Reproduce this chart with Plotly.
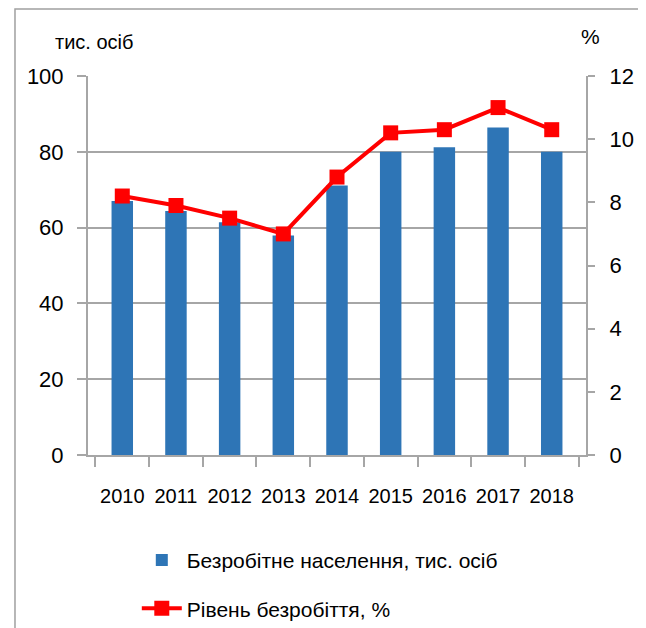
import plotly.graph_objects as go

years = ["2010", "2011", "2012", "2013", "2014", "2015", "2016", "2017", "2018"]
unemployed = [67.0, 64.4, 61.4, 57.9, 71.1, 80.0, 81.2, 86.4, 80.0]
rate = [8.2, 7.9, 7.5, 7.0, 8.8, 10.2, 10.3, 11.0, 10.3]

FONT = "Liberation Sans, Arial, sans-serif"
GRID = "#A6A6A6"

fig = go.Figure()
fig.add_trace(go.Bar(
    x=years, y=unemployed, name="Безробітне населення, тис. осіб",
    marker=dict(color="#2E75B6", line=dict(width=0)), width=0.4, yaxis="y",
    legendgroup="a",
))
fig.add_trace(go.Scatter(
    x=years, y=rate, name="Рівень безробіття, %", mode="lines+markers",
    line=dict(color="#FF0000", width=4),
    marker=dict(symbol="square", size=15, color="#FF0000"), yaxis="y2",
    legendgroup="b",
))

fig.update_layout(
    width=638, height=620,
    margin=dict(l=80, r=60, t=68, b=173, autoexpand=False),
    paper_bgcolor="white", plot_bgcolor="white",
    font=dict(family=FONT, size=21, color="#000000"),
    showlegend=True,
    legend=dict(x=0.098, y=-0.224, xanchor="left", yanchor="top",
                font=dict(family=FONT, size=21), itemwidth=40,
                tracegroupgap=18, traceorder="grouped"),
    xaxis=dict(type="category", showline=True, linecolor=GRID, linewidth=2,
               ticks="outside", tickson="boundaries", ticklen=10, tickcolor=GRID,
               tickwidth=2, tickfont=dict(size=20), tickangle=0, showgrid=False,
               automargin=False, ticklabelstandoff=22),
    yaxis=dict(range=[0, 100], dtick=20, showline=True, linecolor=GRID, linewidth=2,
               showgrid=True, gridcolor=GRID, gridwidth=2, ticks="outside",
               ticklen=9, tickcolor=GRID, tickwidth=2, tickfont=dict(size=22),
               zeroline=False, automargin=False, ticklabelstandoff=9),
    yaxis2=dict(range=[0, 12], dtick=2, overlaying="y", side="right", showline=True,
                linecolor=GRID, linewidth=2, showgrid=False, ticks="outside",
                ticklen=7, tickcolor=GRID, tickwidth=2, tickfont=dict(size=22),
                zeroline=False, automargin=False, ticklabelstandoff=10),
    annotations=[
        dict(text="тис. осіб", xref="paper", yref="paper", x=-0.0703, y=1.0897,
             xanchor="left", yanchor="middle", showarrow=False,
             font=dict(family=FONT, size=20)),
        dict(text="%", xref="paper", yref="paper", x=1.01, y=1.103,
             xanchor="center", yanchor="middle", showarrow=False,
             font=dict(family=FONT, size=21)),
    ],
    shapes=[
        dict(type="rect", xref="paper", yref="paper",
             x0=-0.1466, x1=1.1124, y0=-0.6, y1=1.1768,
             line=dict(color="#A0A0A0", width=1.5), fillcolor="rgba(0,0,0,0)",
             layer="below"),
    ],
)

fig.write_html("out.html")
